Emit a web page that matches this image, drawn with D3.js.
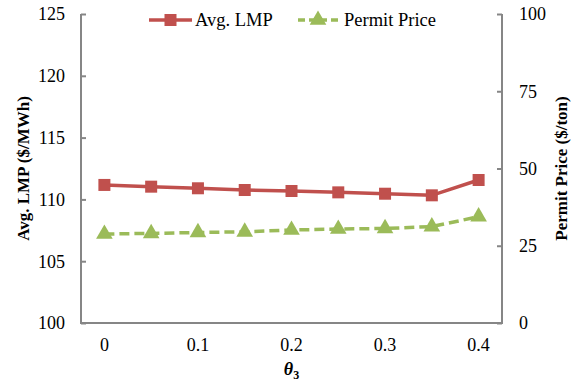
<!DOCTYPE html>
<html>
<head>
<meta charset="utf-8">
<script src="https://cdn.jsdelivr.net/npm/d3@7"></script>
<style>
  body { margin: 0; background: #fff; }
  svg { font-family: "Liberation Serif", "Times New Roman", serif; }
</style>
</head>
<body>
<svg id="chart" width="579" height="383"></svg>
<script>
const theta = ["0", "0.05", "0.1", "0.15", "0.2", "0.25", "0.3", "0.35", "0.4"];
const thetaLabels = ["0", "0.1", "0.2", "0.3", "0.4"];
const avgLmp = [111.17, 111.03, 110.9, 110.76, 110.68, 110.57, 110.46, 110.33, 111.57];
const permitPrice = [28.8, 29.0, 29.3, 29.5, 30.1, 30.4, 30.6, 31.2, 34.4];
const leftTicks = [100, 105, 110, 115, 120, 125];
const rightTicks = [0, 25, 50, 75, 100];

const svg = d3.select("#chart");
const axisColor = "#868686";
const red = "#C0504D";
const green = "#9BBB59";

const plot = { left: 81, right: 502, top: 14, bottom: 323 };

const x = d3.scaleBand().domain(theta).range([plot.left, plot.right]);
const xc = d => x(d) + x.bandwidth() / 2;
const yL = d3.scaleLinear().domain([100, 125]).range([plot.bottom, plot.top]);
const yR = d3.scaleLinear().domain([0, 100]).range([plot.bottom, plot.top]);

// axes (ticks point inward, Excel style)
const leftAxis = svg.append("g")
  .attr("transform", `translate(${plot.left},0)`)
  .call(d3.axisRight(yL).tickValues(leftTicks).tickSize(5).tickFormat(""));
const rightAxis = svg.append("g")
  .attr("transform", `translate(${plot.right},0)`)
  .call(d3.axisLeft(yR).tickValues(rightTicks).tickSize(5).tickFormat(""));

[leftAxis, rightAxis].forEach(g => {
  g.select(".domain").remove();
  g.selectAll(".tick line").attr("stroke", axisColor).attr("stroke-width", 2);
});
svg.append("path")
  .attr("d", `M${plot.left},${plot.top}V${plot.bottom}H${plot.right}V${plot.top}`)
  .attr("fill", "none").attr("stroke", axisColor).attr("stroke-width", 2);

// tick labels
svg.append("g").selectAll("text").data(leftTicks).join("text")
  .attr("x", plot.left - 16).attr("y", d => yL(d)).attr("dy", "0.35em")
  .attr("text-anchor", "end").attr("font-size", 18).text(d => d);
svg.append("g").selectAll("text").data(rightTicks).join("text")
  .attr("x", plot.right + 17).attr("y", d => yR(d)).attr("dy", "0.35em")
  .attr("text-anchor", "start").attr("font-size", 18).text(d => d);
svg.append("g").selectAll("text").data(thetaLabels).join("text")
  .attr("x", d => xc(d)).attr("y", 351)
  .attr("text-anchor", "middle").attr("font-size", 18).text(d => d);

// axis titles
svg.append("text")
  .attr("transform", `translate(23,${(plot.top + plot.bottom) / 2}) rotate(-90)`)
  .attr("text-anchor", "middle").attr("dy", "0.35em")
  .attr("font-size", 17).attr("font-weight", "bold").text("Avg. LMP ($/MWh)");
svg.append("text")
  .attr("transform", `translate(561,${(plot.top + plot.bottom) / 2}) rotate(-90)`)
  .attr("text-anchor", "middle").attr("dy", "0.35em")
  .attr("font-size", 17).attr("font-weight", "bold").text("Permit Price ($/ton)");
const xt = svg.append("text")
  .attr("x", (plot.left + plot.right) / 2).attr("y", 375)
  .attr("text-anchor", "middle").attr("font-size", 18)
  .attr("font-weight", "bold").attr("font-style", "italic");
xt.append("tspan").text("θ");
xt.append("tspan").attr("font-size", 12).attr("dy", 4).attr("font-style", "normal").text("3");

// series
const lineL = d3.line().x((d, i) => xc(theta[i])).y(d => yL(d));
const lineR = d3.line().x((d, i) => xc(theta[i])).y(d => yR(d));

svg.append("path").datum(permitPrice).attr("d", lineR)
  .attr("fill", "none").attr("stroke", green).attr("stroke-width", 3.5)
  .attr("stroke-dasharray", "10,5");
const tri = d3.symbol().type(d3.symbolTriangle).size(120);
svg.append("g").selectAll("path").data(permitPrice).join("path")
  .attr("d", tri)
  .attr("transform", (d, i) => `translate(${xc(theta[i])},${yR(d)})`)
  .attr("fill", green);

svg.append("path").datum(avgLmp).attr("d", lineL)
  .attr("fill", "none").attr("stroke", red).attr("stroke-width", 3.5);
svg.append("g").selectAll("rect").data(avgLmp).join("rect")
  .attr("x", (d, i) => xc(theta[i]) - 6).attr("y", d => yL(d) - 6)
  .attr("width", 12).attr("height", 12).attr("fill", red);

// legend
const lg = svg.append("g");
lg.append("line").attr("x1", 149).attr("x2", 192).attr("y1", 20).attr("y2", 20)
  .attr("stroke", red).attr("stroke-width", 3.5);
lg.append("rect").attr("x", 164.5).attr("y", 14).attr("width", 12).attr("height", 12).attr("fill", red);
lg.append("text").attr("x", 195).attr("y", 20).attr("dy", "0.35em").attr("font-size", 18.5).text("Avg. LMP");
lg.append("line").attr("x1", 298).attr("x2", 338).attr("y1", 20).attr("y2", 20)
  .attr("stroke", green).attr("stroke-width", 3.5).attr("stroke-dasharray", "7,4");
lg.append("path").attr("d", tri).attr("transform", "translate(318,20)").attr("fill", green);
lg.append("text").attr("x", 344).attr("y", 20).attr("dy", "0.35em").attr("font-size", 18.5).text("Permit Price");
</script>
</body>
</html>
